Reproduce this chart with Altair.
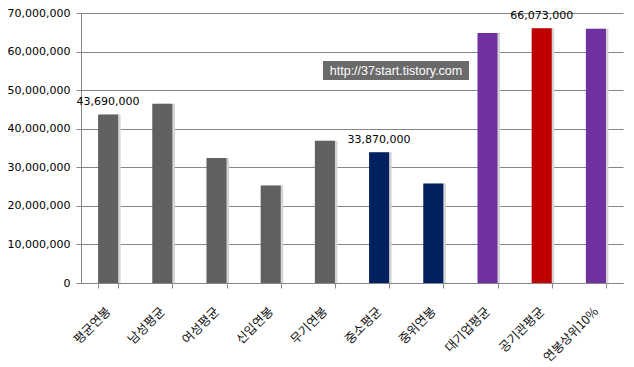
import altair as alt
import pandas as pd

categories = ["평균연봉", "남성평균", "여성평균", "신입연봉", "무기연봉",
              "중소평균", "중위연봉", "대기업평균", "공기관평균", "연봉상위10%"]
values = [43690000, 46500000, 32400000, 25300000, 36900000,
          33870000, 25800000, 64800000, 66073000, 65900000]
bar_colors = ["#606060", "#606060", "#606060", "#606060", "#606060",
              "#002060", "#002060", "#7030A0", "#C00000", "#7030A0"]
shown_labels = ["43,690,000", "", "", "", "", "33,870,000", "", "", "66,073,000", ""]
y_ticks = [0, 10000000, 20000000, 30000000, 40000000, 50000000, 60000000, 70000000]
watermark = "http://37start.tistory.com"

df = pd.DataFrame({"cat": categories, "value": values, "label": shown_labels})

x_enc = alt.X("cat:N", sort=categories,
              scale=alt.Scale(paddingInner=0.63, paddingOuter=0.315),
              axis=alt.Axis(title=None, labelAngle=-45, labelAlign="right",
                            labelBaseline="middle", labelPadding=21,
                            labelFont="Noto Sans CJK KR", labelFontSize=12.5,
                            labelColor="#111", tickBand="extent", tickSize=5,
                            tickColor="#868686", domainColor="#868686",
                            grid=False))
y_enc = alt.Y("value:Q", scale=alt.Scale(domain=[0, 70000000], nice=False),
              axis=alt.Axis(title=None, values=y_ticks, format=",.0f",
                            labelFont="DejaVu Sans", labelFontSize=11,
                            labelColor="#000", labelPadding=6, tickSize=5,
                            tickColor="#868686", domainColor="#868686",
                            gridColor="#868686", gridWidth=1))

base = alt.Chart(df)

shadow = base.mark_bar(color="#d4d4d4", xOffset=2.5).encode(x=x_enc, y=y_enc)

bars = base.mark_bar().encode(
    x=x_enc, y=y_enc,
    color=alt.Color("cat:N", scale=alt.Scale(domain=categories, range=bar_colors),
                    legend=None),
)

labels = base.mark_text(font="DejaVu Sans", fontSize=11, color="#000",
                        baseline="alphabetic", dy=-9).encode(
    x=x_enc, y=y_enc, text="label:N")

wm_box = alt.Chart(pd.DataFrame({"t": [watermark]})).mark_rect(color="#6a6a6a").encode(
    x=alt.value(242), x2=alt.value(388), y=alt.value(48), y2=alt.value(67))
wm_text = alt.Chart(pd.DataFrame({"t": [watermark]})).mark_text(
    font="Liberation Sans", fontSize=12.5, color="white", align="center",
    baseline="middle").encode(x=alt.value(315), y=alt.value(58), text="t:N")

chart = alt.layer(shadow, bars, labels, wm_box, wm_text).properties(
    width=542, height=270,
    autosize=alt.AutoSizeParams(type="none"),
    padding={"left": 73, "top": 5, "right": 3, "bottom": 83},
    background="white",
).configure_view(stroke=None)

chart.save("out.html", embed_options={"renderer": "svg", "actions": False})
